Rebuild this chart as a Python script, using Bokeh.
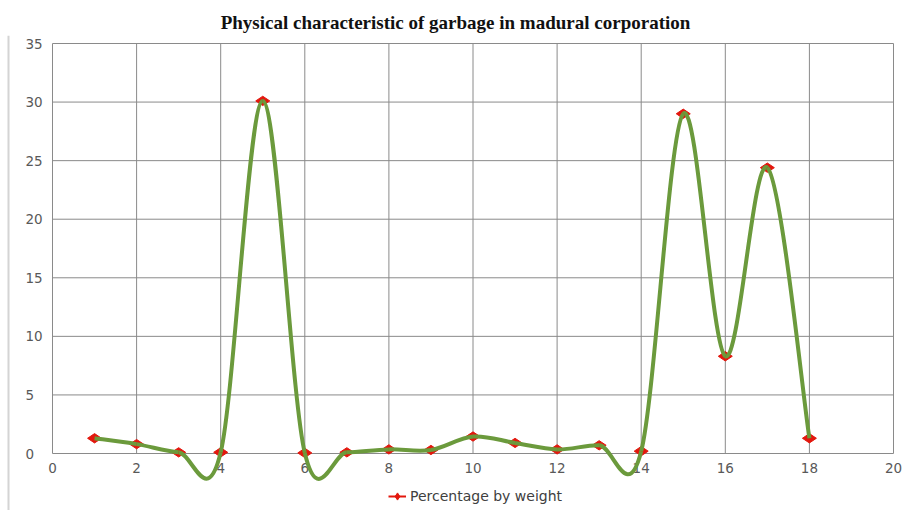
import math
from bokeh.plotting import figure
from bokeh.models import Legend, LegendItem, Range1d, Span
from bokeh.core.properties import value
from bokeh.embed import file_html
from bokeh.resources import INLINE

# ---- data ----
sample_no = [1, 2, 3, 4, 5, 6, 7, 8, 9, 10, 11, 12, 13, 14, 15, 16, 17, 18]
percentage_by_weight = [1.3, 0.8, 0.1, 0.1, 30.1, 0.05, 0.1, 0.35, 0.3, 1.45,
                        0.9, 0.35, 0.7, 0.2, 29.0, 8.3, 24.4, 1.3]
x_ticks = [0, 2, 4, 6, 8, 10, 12, 14, 16, 18, 20]
y_ticks = [0, 5, 10, 15, 20, 25, 30, 35]
x_tick_labels = [str(t) for t in x_ticks]
y_tick_labels = [str(t) for t in y_ticks]
title_text = "Physical characteristic of garbage in madural corporation"
series_name = "Percentage by weight"

LINE_GREEN = "#6b9a3c"
MARKER_RED = "#e3170d"
GRID = "#8a8a8a"
LABEL = "#595959"
FONT = "DejaVu Sans"

# ---- layout geometry (pixels) ----
W, H = 910, 510
PANEL_TOP = 35          # bottom edge of the title band
PX_TOP35 = 43           # pixel row of y = 35
PX_LEFT, PX_RIGHT, PX_ZERO = 52, 893, 453
ppu_x = (PX_RIGHT - PX_LEFT) / (x_ticks[-1] - x_ticks[0])
ppu_y = (PX_ZERO - PX_TOP35) / (y_ticks[-1] - y_ticks[0])
x_range = Range1d(x_ticks[0] - PX_LEFT / ppu_x, x_ticks[-1] + (W - PX_RIGHT) / ppu_x)
y_range = Range1d(y_ticks[0] - (H - PX_ZERO) / ppu_y,
                  y_ticks[-1] + (PX_TOP35 - PANEL_TOP) / ppu_y)

# smoothed line segments (Catmull-Rom style control points, like Excel smoothing)
n = len(sample_no)
x0, y0, x1, y1, cx0, cy0, cx1, cy1 = [], [], [], [], [], [], [], []
for i in range(n - 1):
    ip = max(i - 1, 0)
    inn = min(i + 2, n - 1)
    xa, ya = sample_no[i], percentage_by_weight[i]
    xb, yb = sample_no[i + 1], percentage_by_weight[i + 1]
    x0.append(xa); y0.append(ya); x1.append(xb); y1.append(yb)
    cx0.append(xa + (xb - sample_no[ip]) / 6.0)
    cy0.append(ya + (yb - percentage_by_weight[ip]) / 6.0)
    cx1.append(xb - (sample_no[inn] - xa) / 6.0)
    cy1.append(yb - (percentage_by_weight[inn] - ya) / 6.0)

p = figure(width=W, height=H, output_backend="svg", toolbar_location=None,
           x_range=x_range, y_range=y_range,
           x_axis_location=None, y_axis_location=None,
           min_border_left=0, min_border_right=0, min_border_top=PANEL_TOP,
           min_border_bottom=0)

p.title.text = title_text
p.title.align = "center"
p.title.text_font = "Liberation Serif"
p.title.text_font_size = "19px"
p.title.text_font_style = "bold"
p.title.text_color = "#111111"
p.title.offset = 0
p.title.standoff = 6

p.outline_line_color = None
p.background_fill_color = "white"
p.border_fill_color = "white"
p.grid.visible = False

# chart-area border on the left
p.add_layout(Span(location=x_range.start + 8 / ppu_x, dimension="height",
                  line_color="#d4d4d4", line_width=2))

# grid lines + axis lines
nx, ny = len(x_ticks), len(y_ticks)
p.segment(x0=x_ticks, y0=[y_ticks[0]] * nx, x1=x_ticks, y1=[y_ticks[-1]] * nx,
          line_color=GRID, line_width=1)
p.segment(x0=[x_ticks[0]] * ny, y0=y_ticks, x1=[x_ticks[-1]] * ny, y1=y_ticks,
          line_color=GRID, line_width=1)

# tick labels
p.text(x=x_ticks, y=[y_ticks[0]] * nx, text=x_tick_labels, text_align="center",
       text_baseline="middle", y_offset=14, text_font=value(FONT),
       text_font_size="13.5px", text_color=LABEL)
p.text(x=[x_ticks[0]] * ny, y=y_ticks, text=y_tick_labels, text_align="left",
       text_baseline="middle", x_offset=-27, text_font=value(FONT),
       text_font_size="13.5px", text_color=LABEL)

sc = p.scatter(sample_no, percentage_by_weight, marker="diamond", size=14,
               angle=math.pi / 2, fill_color=MARKER_RED, line_color=MARKER_RED)
bz = p.bezier(x0=x0, y0=y0, x1=x1, y1=y1, cx0=cx0, cy0=cy0, cx1=cx1, cy1=cy1,
              line_color=LINE_GREEN, line_width=4)
# legend-only sample line (Excel shows the series key as a red line with marker)
key_line = p.line(sample_no, percentage_by_weight, line_color=MARKER_RED,
                  line_width=2, visible=False)

legend = Legend(items=[LegendItem(label=series_name, renderers=[key_line, sc])],
                location=(388, 4), orientation="horizontal",
                background_fill_alpha=0, border_line_color=None,
                padding=0, margin=0, glyph_width=18, label_standoff=4,
                label_height=20, glyph_height=20,
                inactive_fill_alpha=0,
                label_text_font=FONT, label_text_font_size="14px",
                label_text_color="#404040")
p.add_layout(legend)

open("out.html", "w").write(file_html(p, INLINE))
